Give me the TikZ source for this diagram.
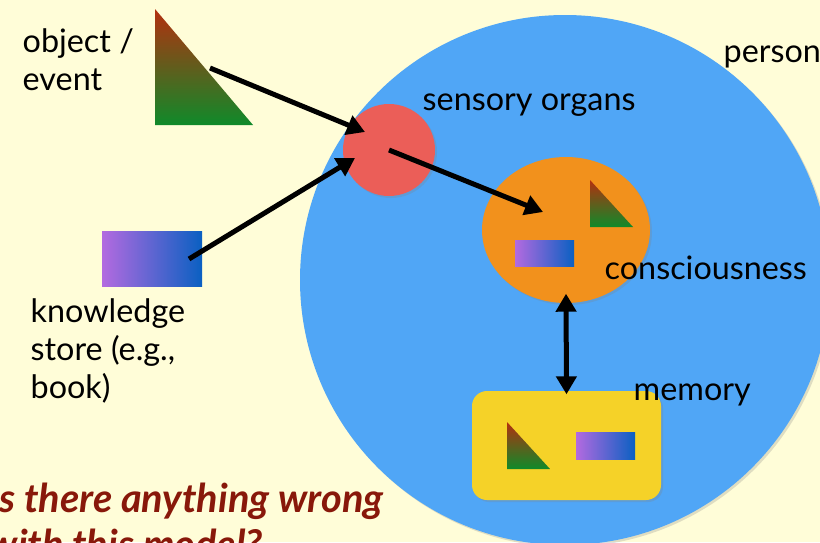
\documentclass[tikz,border=0pt]{standalone}
\usepackage{fontspec}
\setmainfont{Lato}
\usetikzlibrary{positioning,arrows.meta,shapes.geometric,shadows}
\definecolor{bgyel}{HTML}{FFFDD8}
\definecolor{psblue}{HTML}{50A6F6}
\definecolor{sored}{HTML}{EB5E58}
\definecolor{coorange}{HTML}{F2911C}
\definecolor{meyellow}{HTML}{F5D228}
\definecolor{trired}{HTML}{B3300F}
\definecolor{trigreen}{HTML}{0F8A2A}
\definecolor{bkpurple}{HTML}{B36AE0}
\definecolor{bkblue}{HTML}{0A60C2}
\definecolor{qred}{HTML}{88180A}

\begin{document}
\begin{tikzpicture}[
      font=\fontsize{9.2}{10.8}\selectfont,
      shd/.style={drop shadow={opacity=0.25, shadow xshift=0.02cm, shadow yshift=-0.02cm}},
      book/.style={inner sep=0pt, left color=bkpurple, right color=bkblue},
      tri/.style={top color=trired, bottom color=trigreen},
      lbl/.style={inner sep=0pt, align=left, anchor=base west},
      arr/.style={-{Triangle[length=0.18cm,width=0.2cm]}, line width=0.05cm, draw=black}
    ]
    \clip (0,0) rectangle (8.2,5.42);
    \fill[bgyel] (0,0) rectangle (8.2,5.42);

    % person and its parts
    \node[circle, fill=psblue, minimum size=5.3cm, inner sep=0pt, shd] (person) at (5.65,2.62) {};
    \node[circle, fill=sored, minimum size=0.92cm, inner sep=0pt, shd] (sensory) at (3.89,3.92) {};
    \node[ellipse, fill=coorange, minimum width=1.68cm, minimum height=1.46cm, inner sep=0pt, shd] (consc) at (5.66,3.12) {};
    \node[rounded corners=0.15cm, fill=meyellow, minimum width=1.89cm, minimum height=1.09cm, inner sep=0pt, shd] (memory) at (5.665,0.965) {};

    % objects and books
    \shade[tri] (1.55,5.33) -- (1.55,4.17) -- (2.53,4.17) -- cycle;
    \shade[tri] (5.90,3.62) -- (5.90,3.15) -- (6.33,3.15) -- cycle;
    \shade[tri] (5.07,1.20) -- (5.07,0.73) -- (5.50,0.73) -- cycle;
    \node[book, minimum width=1cm, minimum height=0.55cm] (store) at (1.52,2.835) {};
    \node[book, minimum width=0.59cm, minimum height=0.26cm] (consbook) at (5.445,2.89) {};
    \node[book, minimum width=0.59cm, minimum height=0.27cm] (membook) at (6.055,0.965) {};

    % labels
    \node[lbl] (objlbl) at (0.22,4.52) {object /\\event};
    \node[lbl] (storelbl) at (0.30,1.44) {knowledge\\store (e.g.,\\book)};
    \node[lbl] (personlbl) at (7.23,4.80) {person};
    \node[lbl] (sensorylbl) at (4.22,4.32) {sensory organs};
    \node[lbl] (consclbl) at (6.04,2.63) {consciousness};
    \node[lbl] (memlbl) at (6.33,1.42) {memory};
    \node[lbl, text=qred, font=\fontsize{11.3}{13.2}\selectfont\bfseries\itshape] (question) at (-0.12,-0.166)
      {Is there anything wrong\\with this model?};

    % arrows
    \coordinate (objtip) at (2.10,4.74);
    \coordinate (sensin1) at (3.65,4.10);
    \coordinate (storetip) at (1.89,2.83);
    \coordinate (sensin2) at (3.55,3.84);
    \coordinate (consin) at (5.43,3.30);
    \draw[arr] (objtip) -- (sensin1);
    \draw[arr] (storetip) -- (sensin2);
    \draw[arr] (sensory.center) -- (consin);
    \draw[arr, {Triangle[length=0.18cm,width=0.2cm]}-{Triangle[length=0.18cm,width=0.2cm]}]
      ([yshift=0.1cm]consc.south) -- ([yshift=-0.04cm]memory.north);
  \end{tikzpicture}
\end{document}
